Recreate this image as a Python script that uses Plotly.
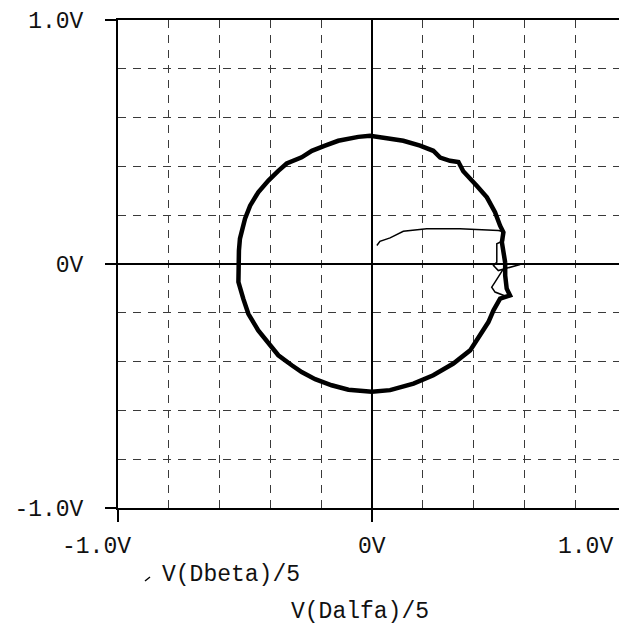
import plotly.graph_objects as go

# Lissajous trace: V(Dalfa)/5 on x, V(Dbeta)/5 on y (volts)
circle_x = [0.524, 0.517, 0.511, 0.517, 0.504, 0.484, 0.452, 0.412, 0.375, 0.359, 0.340,
            0.307, 0.268, 0.241, 0.189, 0.123, 0.058, -0.008, -0.054, -0.133, -0.185,
            -0.237, -0.277, -0.300, -0.336, -0.369, -0.408, -0.448, -0.480, -0.500, -0.520, -0.524,
            -0.524, -0.526, -0.507, -0.487, -0.448, -0.408, -0.369, -0.316, -0.277, -0.224,
            -0.159, -0.093, -0.001, 0.071, 0.163, 0.241, 0.320, 0.386, 0.425, 0.458,
            0.478, 0.504, 0.543, 0.530, 0.524, 0.524]
circle_y = [0.006, 0.055, 0.089, 0.130, 0.157, 0.212, 0.273, 0.321, 0.360, 0.380, 0.418,
            0.423, 0.436, 0.464, 0.485, 0.505, 0.515, 0.526, 0.521, 0.505, 0.485,
            0.464, 0.437, 0.428, 0.412, 0.382, 0.342, 0.294, 0.239, 0.186, 0.104, 0.055,
            -0.006, -0.074, -0.142, -0.204, -0.272, -0.326, -0.374, -0.415, -0.443, -0.472,
            -0.497, -0.515, -0.524, -0.517, -0.490, -0.456, -0.408, -0.354, -0.292, -0.238,
            -0.190, -0.142, -0.129, -0.101, -0.047, 0.006]

# start-up transient from near the origin out to the orbit
start_x = [0.019, 0.031, 0.071, 0.123, 0.215, 0.346, 0.497, 0.516]
start_y = [0.076, 0.093, 0.107, 0.134, 0.144, 0.144, 0.137, 0.133]

# settling wiggles on the right side of the orbit
wiggle_x = [0.516, 0.517, 0.491, 0.491, 0.478, 0.497, 0.583, 0.517, 0.484, 0.471, 0.484, 0.504, 0.537]
wiggle_y = [0.133, 0.096, 0.083, 0.007, -0.006, -0.027, -0.002, -0.020, -0.074, -0.095, -0.115, -0.122, -0.136]

x_ticks = [-1.0, 0.0]
y_ticks = [-1.0, 0.0, 1.0]
y_tick_text = ["-1.0V", "0V", "1.0V"]
x_tick_text = ["-1.0V", "0V", "1.0V"]
trace_name = "V(Dbeta)/5"
x_title = "V(Dalfa)/5"

FONT = "Liberation Mono, Courier New, monospace"
INK = "#000000"
TXT = "#111111"

fig = go.Figure()
fig.add_trace(go.Scatter(x=start_x, y=start_y, mode="lines",
                         line=dict(color=INK, width=1.5), showlegend=False))
fig.add_trace(go.Scatter(x=wiggle_x, y=wiggle_y, mode="lines",
                         line=dict(color=INK, width=1.5), showlegend=False))
fig.add_trace(go.Scatter(x=circle_x, y=circle_y, mode="lines", name=trace_name,
                         line=dict(color=INK, width=4.5), showlegend=False))

grid = dict(showgrid=True, gridcolor="#3a3a3a", gridwidth=1, griddash="8px,7px", dtick=0.2, tick0=0)

fig.update_xaxes(range=[-1.0, 0.972], tickvals=x_ticks, showticklabels=False,
                 ticks="outside", ticklen=12, tickwidth=2, tickcolor=INK,
                 showline=True, linecolor=INK, linewidth=2, mirror=True,
                 showgrid=False, zeroline=True, zerolinecolor=INK, zerolinewidth=2,
                 minor=grid)
fig.update_yaxes(range=[-1.0, 1.0], tickvals=y_ticks, ticktext=y_tick_text,
                 ticks="outside", ticklen=11, tickwidth=2, tickcolor=INK,
                 ticklabelstandoff=17,
                 tickfont=dict(family=FONT, size=23, color=TXT),
                 showline=True, linecolor=INK, linewidth=2,
                 showgrid=False, zeroline=True, zerolinecolor=INK, zerolinewidth=2,
                 minor=grid)

# x tick labels (the 1.0V position lies just past the right edge)
ann = []
for v, t, shift in zip([-1.0, 0.0], x_tick_text[:2], [-22, 0]):
    ann.append(dict(x=v, xref="x", y=0, yref="paper", yanchor="top", yshift=-24,
                    xanchor="center", xshift=shift, text=t, showarrow=False,
                    font=dict(family=FONT, size=23, color=TXT)))
ann.append(dict(x=1, xref="paper", y=0, yref="paper", yanchor="top", yshift=-24,
                xanchor="right", xshift=-4, text=x_tick_text[2], showarrow=False,
                font=dict(family=FONT, size=23, color=TXT)))
# trace name and x variable
ann.append(dict(x=(160 - 118) / 501, xref="paper", y=(508 - 575) / 488, yref="paper",
                xanchor="left", yanchor="middle", text=trace_name, showarrow=False,
                font=dict(family=FONT, size=23, color=TXT)))
ann.append(dict(x=(289 - 118) / 501, xref="paper", y=(508 - 612) / 488, yref="paper",
                xanchor="left", yanchor="middle", text=x_title, showarrow=False,
                font=dict(family=FONT, size=23, color=TXT)))

fig.update_layout(
    width=619, height=628,
    margin=dict(l=118, r=0, t=20, b=120),
    paper_bgcolor="white", plot_bgcolor="white",
    annotations=ann,
    shapes=[dict(type="line", xref="paper", yref="paper",
                 x0=(145 - 118) / 501, y0=(508 - 581) / 488,
                 x1=(150 - 118) / 501, y1=(508 - 577) / 488,
                 line=dict(color=INK, width=1.5))],
)

fig.write_html("out.html")
